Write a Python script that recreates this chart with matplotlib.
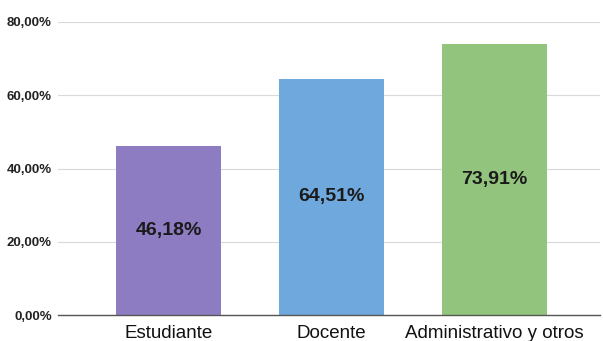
import matplotlib.pyplot as plt
import numpy as np

plt.rcParams['font.family'] = ['Liberation Sans', 'DejaVu Sans']

categories = ['Estudiante', 'Docente', 'Administrativo y otros']
values = [46.18, 64.51, 73.91]
colors = ['#8e7cc3', '#6fa8dc', '#93c47d']
yticks = [0, 20, 40, 60, 80]

fig = plt.figure(figsize=(6.03, 3.41), dpi=100)
ax = fig.add_axes([58 / 603, 26 / 341, 542 / 603, 293 / 341])

x = np.arange(len(categories))
ax.bar(x, values, width=0.645, color=colors, zorder=2)

for xi, v in zip(x, values):
    ax.text(xi, v / 2, f'{v:.2f}%'.replace('.', ','), ha='center', va='center',
            fontsize=14, fontweight='bold', color='#1a1a1a', zorder=3)

ax.set_xlim(-0.678, 2.647)
ax.set_ylim(0, 80)
ax.set_yticks(yticks)
ax.set_yticklabels([f'{t},00%' for t in yticks], fontsize=9.5, fontweight='bold', color='#222222')
ax.set_xticks(x)
ax.set_xticklabels(categories, fontsize=13.5, color='#111111')

ax.grid(True, axis='y', color='#d9d9d9', linewidth=0.8, zorder=0)
ax.tick_params(axis='both', length=0)
ax.tick_params(axis='y', pad=4.5)
ax.tick_params(axis='x', pad=7)
for s in ['top', 'right', 'left']:
    ax.spines[s].set_visible(False)
ax.spines['bottom'].set_color('#555555')
ax.spines['bottom'].set_linewidth(1)

fig.savefig('out.png', dpi=100)
